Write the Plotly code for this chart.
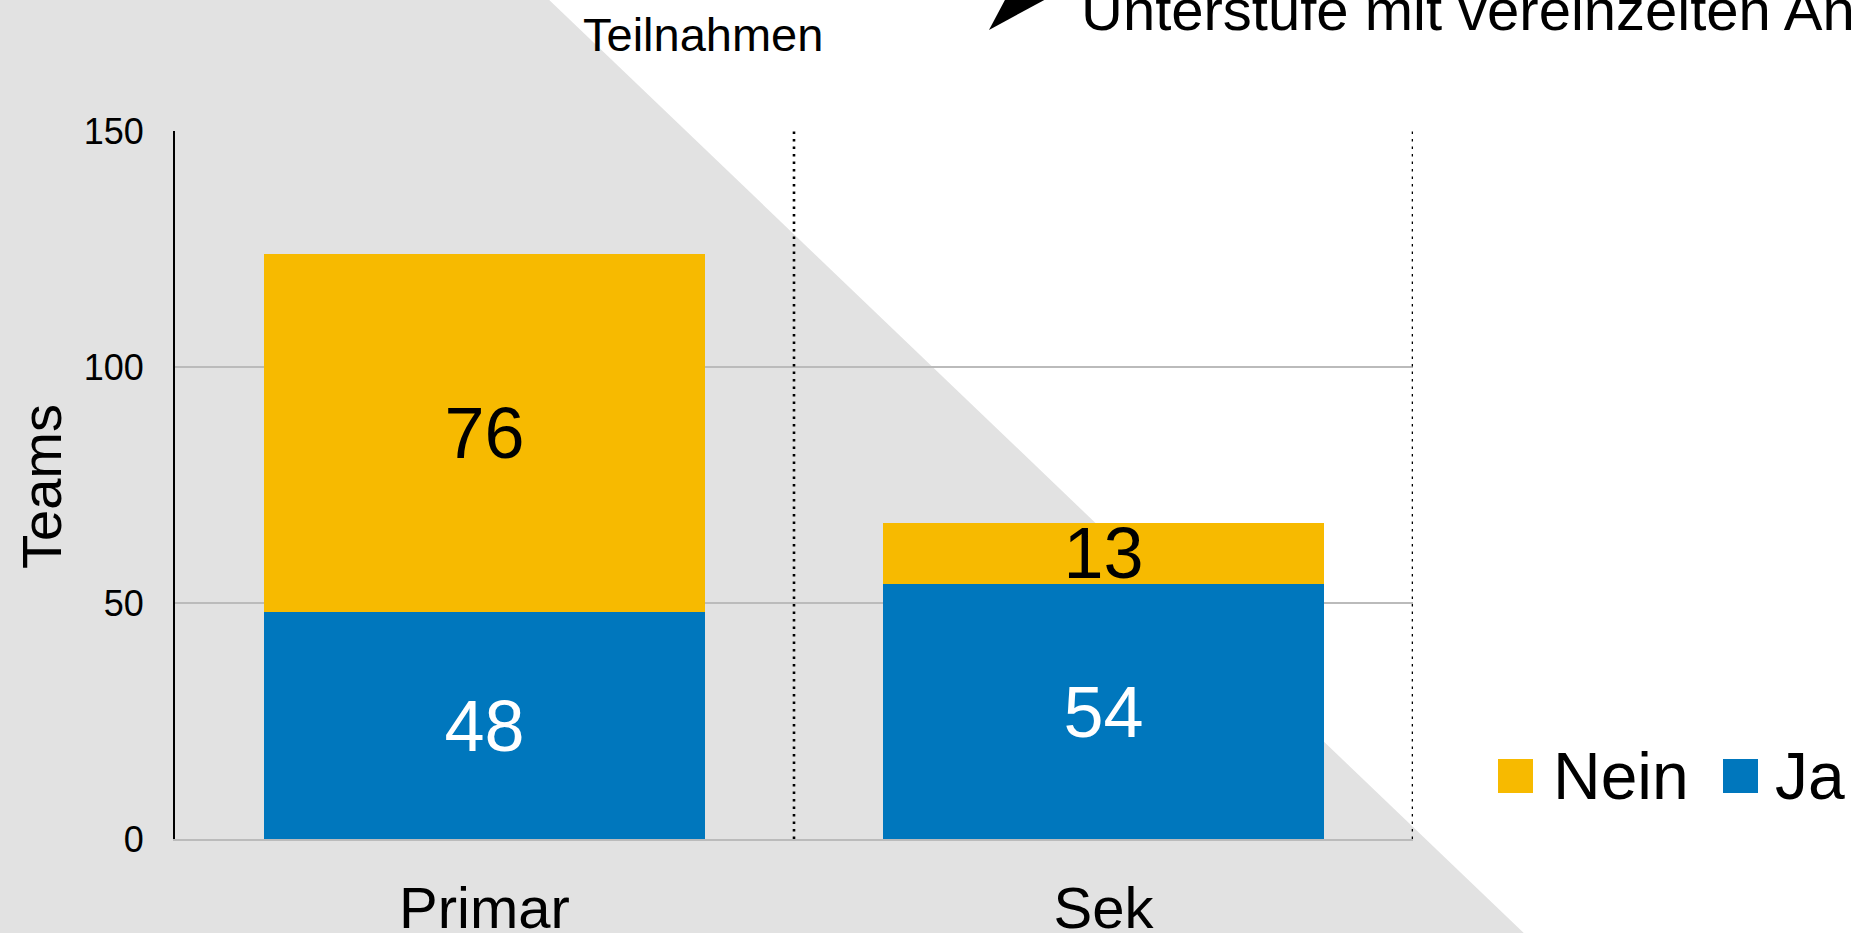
import plotly.graph_objects as go

# ---- data ----
categories = ["Primar", "Sek"]
series_names = ["Ja", "Nein"]
ja_values = [48, 54]
nein_values = [76, 13]
y_ticks = [0, 50, 100, 150]
title_text = "Teilnahmen"
note_text = "Unterstufe mit vereinzelten Anmeldungen"
y_title = "Teams"

# ---- layout constants (pixels) ----
W, H = 1853, 933
L, R, T, B = 175, 1413, 131, 839
PW, PH = R - L, B - T
FONT = "Liberation Sans, Arial, sans-serif"
YELLOW = "#F7BA00"
BLUE = "#0077BD"
GRID = "#BBBBBB"


def px(x, y):
    return (x - L) / PW, (B - y) / PH


fig = go.Figure()
fig.add_trace(go.Bar(
    x=categories, y=ja_values, name=series_names[0],
    marker=dict(color=BLUE, line=dict(width=0)),
    text=[str(v) for v in ja_values], textposition="inside",
    insidetextanchor="middle", textangle=0, constraintext="none",
    insidetextfont=dict(family=FONT, size=72, color="white"),
    showlegend=False,
))
fig.add_trace(go.Bar(
    x=categories, y=nein_values, name=series_names[1],
    marker=dict(color=YELLOW, line=dict(width=0)),
    text=[str(v) for v in nein_values], textposition="inside",
    insidetextanchor="middle", textangle=0, constraintext="none",
    insidetextfont=dict(family=FONT, size=72, color="black"),
    showlegend=False,
))

shapes = []
# gray background triangle
tri = [px(-5, -5), px(544, -5), px(1529, 938), px(-5, 938)]
path = "M " + " L ".join(f"{a:.5f},{b:.5f}" for a, b in tri) + " Z"
shapes.append(dict(type="path", path=path, xref="paper", yref="paper",
                   fillcolor="#E2E2E2", line=dict(width=0), layer="below"))
# dotted category separators
for xv in [0.5, 1.5]:
    shapes.append(dict(type="line", xref="x", yref="y", x0=xv, x1=xv,
                       y0=0, y1=150, line=dict(color="black", width=2.6, dash="2.5px,5px"),
                       layer="above"))
# arrow head at top
arr = [px(989, 30), px(1006, -2), px(1048, -2)]
apath = "M " + " L ".join(f"{a:.5f},{b:.5f}" for a, b in arr) + " Z"
shapes.append(dict(type="path", path=apath, xref="paper", yref="paper",
                   fillcolor="black", line=dict(width=0)))

# manual legend
legend_items = [(series_names[1], YELLOW, 1498, 1553), (series_names[0], BLUE, 1723, 1775)]
annotations = []
for name, col, sx, tx in legend_items:
    x0, y0 = px(sx, 793)
    x1, y1 = px(sx + 35, 759)
    shapes.append(dict(type="rect", xref="paper", yref="paper", x0=x0, x1=x1,
                       y0=y0, y1=y1, fillcolor=col, line=dict(width=0)))
    ax, ay = px(tx - 2, 776)
    annotations.append(dict(text=name, xref="paper", yref="paper", x=ax, y=ay,
                            xanchor="left", yanchor="middle", showarrow=False,
                            font=dict(family=FONT, size=66, color="black")))

# title
tx_, ty_ = px(703, 35)
annotations.append(dict(text=title_text, xref="paper", yref="paper", x=tx_, y=ty_,
                        xanchor="center", yanchor="middle", showarrow=False,
                        font=dict(family=FONT, size=47, color="black")))
# cut-off note at top
nx, ny = px(1079, 10)
annotations.append(dict(text=note_text, xref="paper", yref="paper", x=nx, y=ny,
                        xanchor="left", yanchor="middle", showarrow=False,
                        font=dict(family=FONT, size=58, color="black")))
# y axis title
yx, yy = px(42, 487)
annotations.append(dict(text=y_title, xref="paper", yref="paper", x=yx, y=yy,
                        xanchor="center", yanchor="middle", textangle=-90, showarrow=False,
                        font=dict(family=FONT, size=56, color="black")))

fig.update_layout(
    template="none",
    width=W, height=H, autosize=False,
    margin=dict(l=L, r=W - R, t=T, b=H - B, pad=0, autoexpand=False),
    barmode="stack", bargap=0.286,
    paper_bgcolor="white", plot_bgcolor="rgba(0,0,0,0)",
    shapes=shapes, annotations=annotations,
    showlegend=False,
    font=dict(family=FONT, color="black"),
    xaxis=dict(range=[-0.5, 1.5], showgrid=False, zeroline=False, automargin=False,
               showline=True, linecolor=GRID, linewidth=2,
               tickfont=dict(family=FONT, size=58, color="black"),
               ticks="", ticklabelstandoff=17, fixedrange=True),
    yaxis=dict(range=[0, 150], tickvals=y_ticks, showgrid=True, gridcolor=GRID,
               gridwidth=2, zeroline=False, showline=True, linecolor="black",
               linewidth=2, ticks="", ticklabelstandoff=22, automargin=False,
               tickfont=dict(family=FONT, size=36, color="black"), fixedrange=True),
)

fig.write_html("out.html", config={"displayModeBar": False},
               post_script="document.body.style.margin='0';document.body.style.overflow='hidden';")
